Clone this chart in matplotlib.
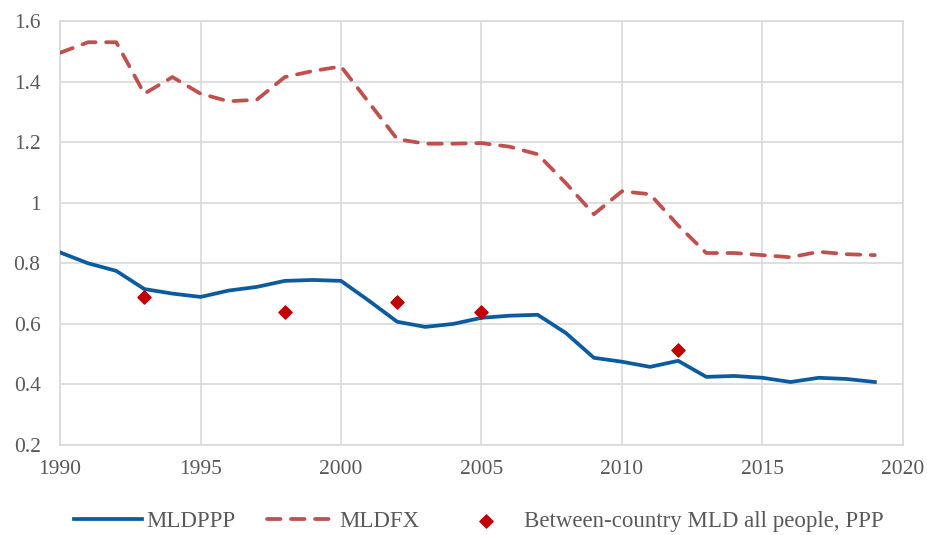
import numpy as np
import matplotlib
matplotlib.use("Agg")
import matplotlib.pyplot as plt

years = list(range(1990, 2020))

mld_ppp = [0.836, 0.800, 0.775, 0.715, 0.700, 0.689, 0.710, 0.722, 0.742, 0.745,
           0.742, 0.676, 0.607, 0.590, 0.600, 0.620, 0.627, 0.630, 0.570, 0.488,
           0.475, 0.458, 0.478, 0.425, 0.428, 0.422, 0.408, 0.422, 0.418, 0.408]

mld_fx = [1.495, 1.530, 1.530, 1.360, 1.415, 1.360, 1.335, 1.340, 1.415, 1.435,
          1.450, 1.330, 1.210, 1.195, 1.195, 1.197, 1.185, 1.160, 1.065, 0.962,
          1.038, 1.028, 0.925, 0.834, 0.834, 0.827, 0.820, 0.838, 0.830, 0.827]

between_years = [1993, 1998, 2002, 2005, 2012]
between_ppp = [0.689, 0.640, 0.672, 0.640, 0.514]

plt.rcParams['font.family'] = ['Liberation Serif', 'DejaVu Serif']

fig = plt.figure(figsize=(9.28, 5.35), dpi=100)
ax = fig.add_axes([0.0647, 0.1682, 0.9083, 0.7925])

ax.plot(years, mld_ppp, color='#0B5BA0', lw=2.7, label='MLDPPP', zorder=3)
ax.plot(years, mld_fx, color='#C0504D', lw=2.7, dashes=(3.6, 2.8),
        dash_capstyle='round', label='MLDFX', zorder=3)
ax.scatter(between_years, between_ppp, marker='D', s=45, color='#C00000',
           label='Between-country MLD all people, PPP', zorder=4)

ax.set_xlim(1990, 2020)
ax.set_ylim(0.2, 1.6)
ax.set_xticks(range(1990, 2021, 5))
ax.set_yticks(np.arange(0.2, 1.61, 0.2))
ax.set_yticklabels(['0.2', '0.4', '0.6', '0.8', '1', '1.2', '1.4', '1.6'])

ax.grid(True, color='#D9D9D9', lw=1.2)
ax.set_axisbelow(True)
for s in ax.spines.values():
    s.set_color('#D9D9D9')
    s.set_linewidth(1.2)
ax.tick_params(length=0, labelsize=15.5, colors='#595959')
ax.tick_params(axis='x', pad=11)
ax.tick_params(axis='y', pad=14)

fig.legend(loc='center', ncol=3, frameon=False, fontsize=16.5,
           bbox_to_anchor=(0.516, 0.026), handlelength=2.95, columnspacing=1.4,
           labelcolor='#595959', handletextpad=0.2)

fig.savefig('out.png', dpi=100)
